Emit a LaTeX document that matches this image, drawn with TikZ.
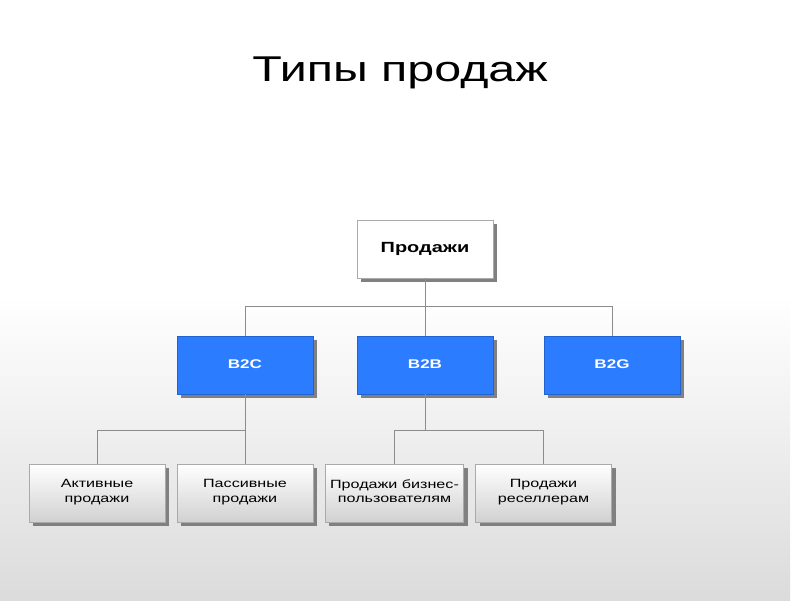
\documentclass[tikz,border=0pt]{standalone}
\usepackage{fontspec}
\setmainfont[FakeStretch=1.35]{Liberation Sans}
\usepackage{tikz}
\usetikzlibrary{calc,positioning,shadows}
\definecolor{boxblue}{RGB}{43,124,255}
\definecolor{boxline}{RGB}{170,170,170}
\tikzset{
    org box/.style={
        draw=boxline,very thin,
        minimum width=3.4cm,minimum height=1.45cm,
        align=center,
        execute at begin node=\strut,execute at end node=\strut,
        drop shadow={shadow xshift=.1cm,shadow yshift=-.1cm,fill=black!50,opacity=1}
    },
    root box/.style={org box,fill=white,font=\fontsize{10.5}{12}\selectfont\bfseries},
    type box/.style={org box,fill=boxblue,draw=boxblue!80!black,text=white,font=\fontsize{9}{11}\selectfont\bfseries},
    leaf box/.style={org box,top color=white,bottom color=black!18,font=\fontsize{8.5}{10}\selectfont},
    link/.style={draw=black!45,thin}
}
\begin{document}
\begin{tikzpicture}
\useasboundingbox (0,0) rectangle (20,15);
\fill[white] (0,0) rectangle (20,15);
\shade[top color=white,bottom color=black!14] (0,0) rectangle (19.75,7.6);
\node[anchor=base] (title) at (10,12.95) {\fontsize{25.5}{30}\selectfont Типы продаж};
% levels
\node[root box] (sales) at (10.625,8.775) {Продажи};
\foreach \x/\name/\txt in {6.125/b2c/B2C,10.625/b2b/B2B,15.3/b2g/B2G}
    \node[type box] (\name) at (\x,5.875) {\txt};
\foreach \x/\name/\txt in {2.425/act/{Активные\\продажи},6.125/pas/{Пассивные\\продажи},9.8625/biz/{Продажи бизнес-\\пользователям},13.5875/res/{Продажи\\реселлерам}}
    \node[leaf box] (\name) at (\x,2.675) {\txt};
\coordinate (bus1) at (10.625,7.35);
\coordinate (bus2) at (6.125,4.25);
\coordinate (bus3) at (10.625,4.25);
% connectors
\draw[link] (sales.south) -- (b2b.north);
\draw[link] (bus1) -| (b2c.north);
\draw[link] (bus1) -| (b2g.north);
\draw[link] (b2c.south) -- (pas.north);
\draw[link] (bus2) -| (act.north);
\draw[link] (b2b.south) -- (bus3) -| (biz.north);
\draw[link] (bus3) -| (res.north);
\end{tikzpicture}
\end{document}
